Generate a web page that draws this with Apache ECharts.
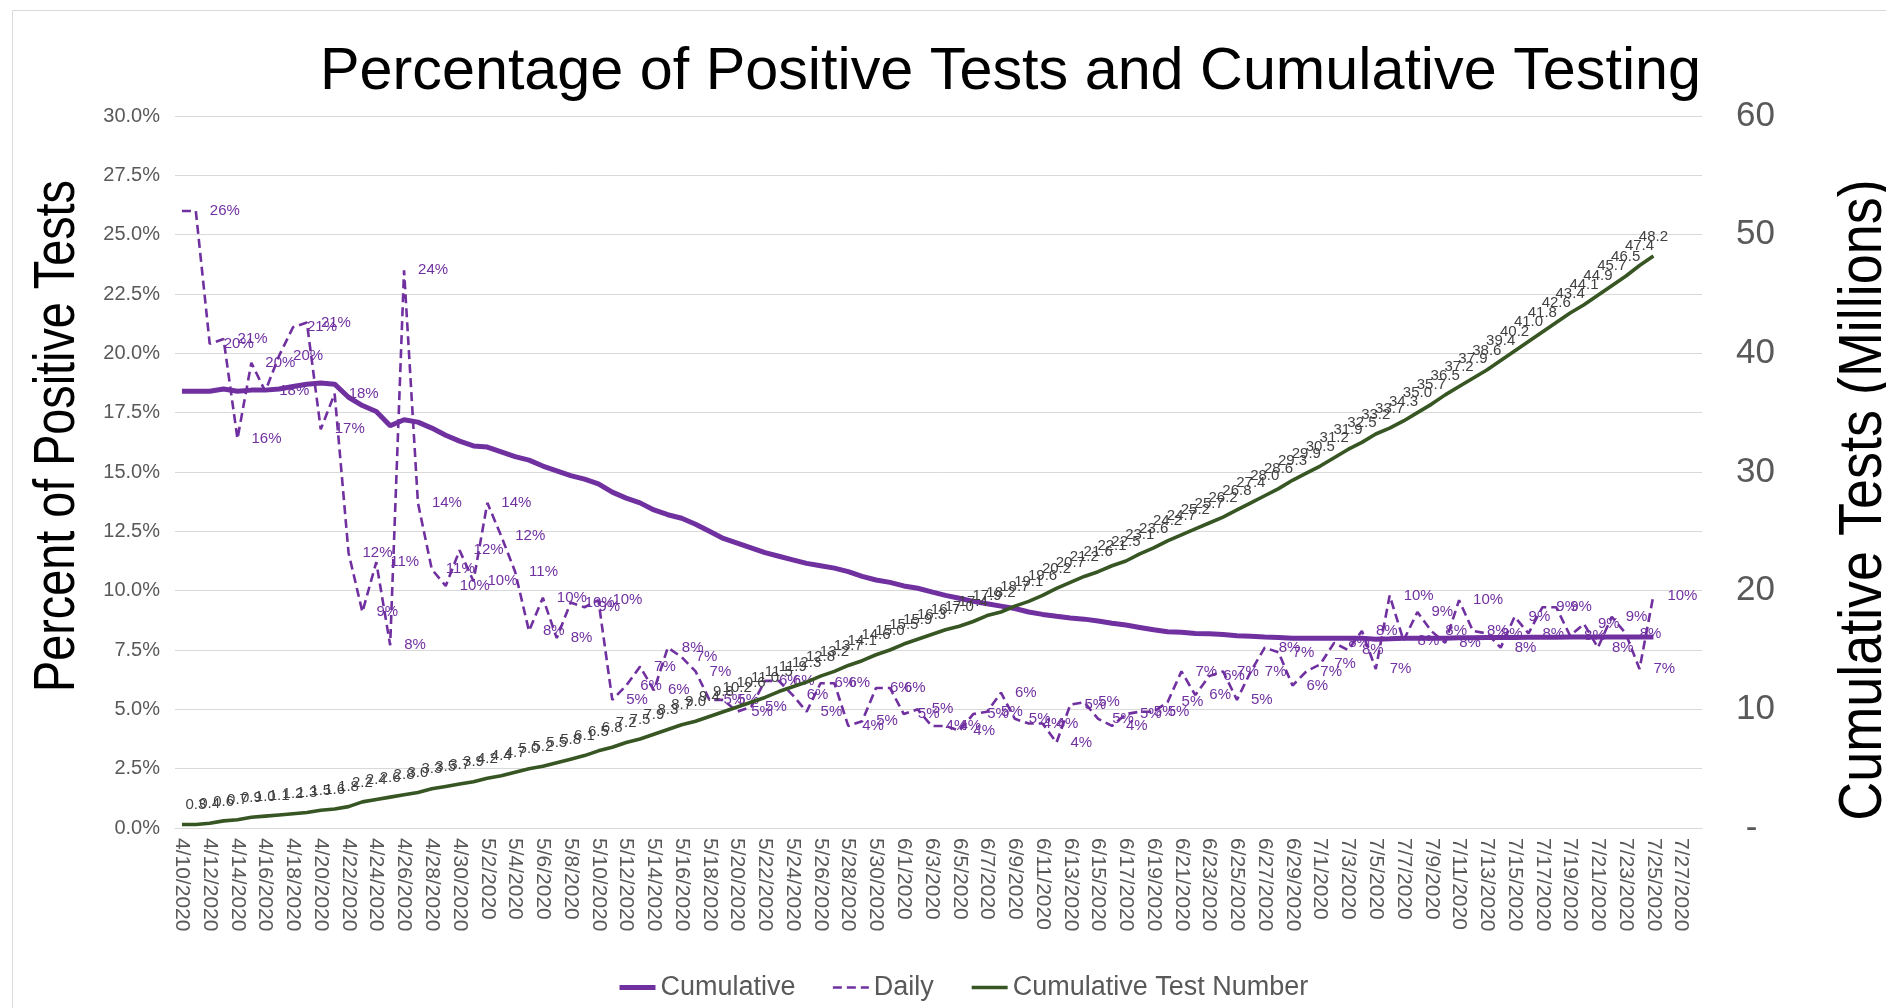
<!DOCTYPE html>
<html>
<head>
<meta charset="utf-8">
<title>Percentage of Positive Tests and Cumulative Testing</title>
<script src="https://cdn.jsdelivr.net/npm/echarts@6/dist/echarts.min.js"></script>
<style>
html, body {margin: 0; padding: 0; background: #fff;}
#chart {width: 1886px; height: 1008px;}
</style>
</head>
<body>
<div id="chart"></div>
<script>
// x axis runs 4/10/2020 .. 7/28/2020, data stops at 7/25
var dates = [];
(function () {
    var d = new Date(2020, 3, 10);
    for (var i = 0; i < 110; i++) {
        dates.push((d.getMonth() + 1) + '/' + d.getDate() + '/' + d.getFullYear());
        d.setDate(d.getDate() + 1);
    }
})();

// percent positive, cumulative (left axis, %)
var cumulativePct = [
    18.4, 18.4, 18.4, 18.5, 18.4, 18.45, 18.45, 18.5, 18.6, 18.7,
    18.75, 18.7, 18.15, 17.8, 17.55, 16.95, 17.2, 17.1, 16.85, 16.55,
    16.3, 16.1, 16.05, 15.85, 15.65, 15.5, 15.25, 15.05, 14.85, 14.7,
    14.5, 14.15, 13.9, 13.7, 13.4, 13.2, 13.05, 12.8, 12.5, 12.2,
    12.0, 11.8, 11.6, 11.45, 11.3, 11.15, 11.05, 10.95, 10.8, 10.6,
    10.45, 10.35, 10.2, 10.1, 9.95, 9.8, 9.68, 9.55, 9.45, 9.35,
    9.25, 9.1, 9.0, 8.92, 8.85, 8.8, 8.72, 8.63, 8.55, 8.45,
    8.35, 8.27, 8.25, 8.2, 8.18, 8.15, 8.1, 8.08, 8.05, 8.03,
    8.0, 7.99, 8.0, 8.0, 8.0, 8.0, 7.95, 7.97, 8.0, 8.0,
    8.0, 8.0, 8.02, 8.02, 8.03, 8.03, 8.03, 8.04, 8.04, 8.04,
    8.05, 8.05, 8.05, 8.05, 8.05, 8.05, 8.05
];

// percent positive, daily (left axis, %)
var dailyPct = [
    26.0, 26.0, 20.4, 20.6, 16.4, 19.6, 18.4, 19.9, 21.1, 21.3,
    16.8, 18.3, 11.6, 9.1, 11.2, 7.7, 23.5, 13.7, 10.9, 10.2,
    11.7, 10.4, 13.7, 12.3, 10.8, 8.3, 9.7, 8.0, 9.5, 9.3,
    9.6, 5.4, 6.0, 6.8, 5.8, 7.6, 7.2, 6.6, 5.4, 5.4,
    4.9, 5.1, 6.2, 6.2, 5.6, 4.9, 6.1, 6.1, 4.3, 4.5,
    5.9, 5.9, 4.8, 5.0, 4.3, 4.3, 4.1, 4.8, 4.9, 5.7,
    4.6, 4.4, 4.4, 3.6, 5.2, 5.3, 4.6, 4.3, 4.8, 4.9,
    4.9, 5.3, 6.6, 5.6, 6.4, 6.6, 5.4, 6.6, 7.6, 7.4,
    6.0, 6.6, 6.9, 7.8, 7.5, 8.3, 6.7, 9.8, 7.9, 9.1,
    8.3, 7.8, 9.6, 8.3, 8.2, 7.6, 8.9, 8.2, 9.3, 9.3,
    8.1, 8.6, 7.6, 8.9, 8.2, 6.7, 9.8
];

// cumulative tests, millions (right axis)
var cumulativeTests = [
    0.3, 0.3, 0.4, 0.6, 0.7, 0.9, 1.0, 1.1, 1.2, 1.3,
    1.5, 1.6, 1.8, 2.2, 2.4, 2.6, 2.8, 3.0, 3.3, 3.5,
    3.7, 3.9, 4.2, 4.4, 4.7, 5.0, 5.2, 5.5, 5.8, 6.1,
    6.5, 6.8, 7.2, 7.5, 7.9, 8.3, 8.7, 9.0, 9.4, 9.8,
    10.2, 10.6, 11.0, 11.5, 11.9, 12.3, 12.8, 13.2, 13.7, 14.1,
    14.6, 15.0, 15.5, 15.9, 16.3, 16.7, 17.0, 17.4, 17.9, 18.2,
    18.7, 19.1, 19.6, 20.2, 20.7, 21.2, 21.6, 22.1, 22.5, 23.1,
    23.6, 24.2, 24.7, 25.2, 25.7, 26.2, 26.8, 27.4, 28.0, 28.6,
    29.3, 29.9, 30.5, 31.2, 31.9, 32.5, 33.2, 33.7, 34.3, 35.0,
    35.7, 36.5, 37.2, 37.9, 38.6, 39.4, 40.2, 41.0, 41.8, 42.6,
    43.4, 44.1, 44.9, 45.7, 46.5, 47.4, 48.2
];

var purple = '#7030A0';
var green = '#375623';
var grey = '#595959';
var font = '"Liberation Sans", Arial, sans-serif';

var chart = echarts.init(document.getElementById('chart'));

var option = {
    backgroundColor: '#fff',
    animation: false,
    title: {
        text: 'Percentage of Positive Tests and Cumulative Testing',
        left: 315,
        top: 38,
        textStyle: {fontFamily: font, fontSize: 59.3, fontWeight: 'normal', color: '#000'}
    },
    legend: {
        left: 612,
        top: 969,
        itemWidth: 36,
        itemHeight: 14,
        itemGap: 36,
        lineStyle: {width: 'inherit'},
        textStyle: {fontFamily: font, fontSize: 27, color: grey},
        data: ['Cumulative', 'Daily', 'Cumulative Test Number']
    },
    grid: {
        left: 175,
        right: 184,
        top: 116,
        bottom: 180,
        containLabel: false,
        outerBoundsMode: 'none'
    },
    xAxis: {
        type: 'category',
        data: dates,
        boundaryGap: true,
        axisTick: {show: false},
        axisLine: {lineStyle: {color: '#D9D9D9', width: 1}},
        axisLabel: {
            interval: 1,
            rotate: -90,
            margin: 10,
            fontFamily: font,
            fontSize: 21,
            color: grey
        }
    },
    yAxis: [
        {
            type: 'value',
            min: 0,
            max: 30,
            interval: 2.5,
            axisLine: {show: false},
            axisTick: {show: false},
            splitLine: {lineStyle: {color: '#D9D9D9', width: 1}},
            axisLabel: {
                margin: 15,
                fontFamily: font,
                fontSize: 20,
                color: grey,
                formatter: function (v) { return v.toFixed(1) + '%'; }
            }
        },
        {
            type: 'value',
            position: 'right',
            min: 0,
            max: 60,
            interval: 10,
            axisLine: {show: false},
            axisTick: {show: false},
            splitLine: {show: false},
            axisLabel: {
                margin: 34,
                align: 'left',
                fontFamily: font,
                fontSize: 35,
                color: grey,
                formatter: function (v) { return v === 0 ? ' -' : String(v); }
            }
        }
    ],
    series: [
        {
            name: 'Cumulative',
            type: 'line',
            yAxisIndex: 0,
            data: cumulativePct,
            symbol: 'circle',
            symbolSize: 4,
            showAllSymbol: true,
            lineStyle: {color: purple, width: 5},
            itemStyle: {color: purple, opacity: 0},
            z: 2
        },
        {
            name: 'Daily',
            type: 'line',
            yAxisIndex: 0,
            data: dailyPct,
            symbol: 'circle',
            symbolSize: 4,
            showAllSymbol: true,
            lineStyle: {color: purple, width: 2.6, type: [9, 5]},
            itemStyle: {color: purple, opacity: 0},
            label: {
                show: true,
                opacity: 1,
                position: 'right',
                distance: 12,
                fontFamily: font,
                fontSize: 15,
                color: purple,
                formatter: function (p) {
                    return p.dataIndex === 0 ? '' : Math.round(p.value) + '%';
                }
            },
            z: 3
        },
        {
            name: 'Cumulative Test Number',
            type: 'line',
            yAxisIndex: 1,
            data: cumulativeTests,
            symbol: 'circle',
            symbolSize: 4,
            showAllSymbol: true,
            lineStyle: {color: green, width: 3.6},
            itemStyle: {color: green, opacity: 0},
            label: {
                show: true,
                opacity: 1,
                position: 'top',
                distance: 10,
                fontFamily: font,
                fontSize: 15,
                color: '#404040',
                formatter: function (p) {
                    return p.dataIndex === 0 ? '' : p.value.toFixed(1);
                }
            },
            z: 4
        }
    ],
    graphic: [
        {
            type: 'rect',
            silent: true,
            shape: {x: 12.5, y: 10.5, width: 1900, height: 1100},
            style: {fill: 'none', stroke: '#D9D9D9', lineWidth: 1}
        },
        {
            // narrow look: squeeze along the text direction
            type: 'text',
            x: 58,
            y: 436,
            rotation: Math.PI / 2,
            scaleX: 0.82,
            style: {
                text: 'Percent of Positive Tests',
                fontFamily: font,
                fontSize: 57,
                fill: '#000',
                align: 'center',
                verticalAlign: 'middle'
            }
        },
        {
            type: 'text',
            x: 1864,
            y: 500,
            rotation: Math.PI / 2,
            scaleX: 0.87,
            style: {
                text: 'Cumulative Tests (Millions)',
                fontFamily: font,
                fontSize: 62,
                fill: '#000',
                align: 'center',
                verticalAlign: 'middle'
            }
        }
    ]
};

chart.setOption(option);
</script>
</body>
</html>
